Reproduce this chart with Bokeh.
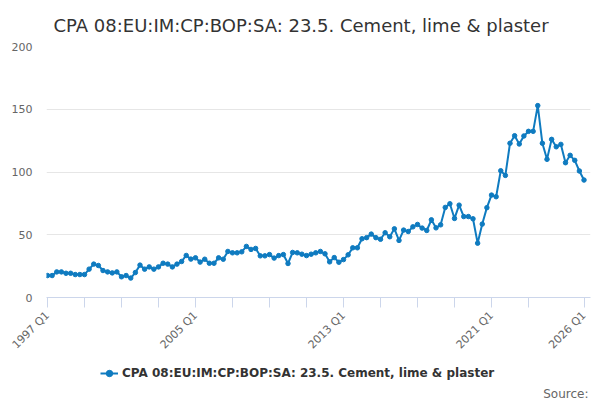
import math
from bokeh.plotting import figure
from bokeh.layouts import column
from bokeh.models import (FixedTicker, Label, Legend, LegendItem, ColumnDataSource,
                          Range1d)
from bokeh.embed import file_html
from bokeh.resources import INLINE

title_text = "CPA 08:EU:IM:CP:BOP:SA: 23.5. Cement, lime & plaster"
series_name = "CPA 08:EU:IM:CP:BOP:SA: 23.5. Cement, lime & plaster"
source_text = "Source:"

first_year = 1997
values = [
    17.5, 17.5, 20.4, 20.4,      # 1997
    19.3, 19.3, 18.3, 18.3,      # 1998
    18.3, 22.6, 26.6, 25.5,      # 1999
    21.5, 20.4, 19.6, 20.4,      # 2000
    16.5, 17.5, 15.5, 19.9,      # 2001
    25.8, 22.6, 24.4, 22.6,      # 2002
    24.4, 27.3, 26.6, 24.4,      # 2003
    26.6, 28.7, 33.5, 30.6,      # 2004
    31.6, 28.2, 30.5, 27.3,      # 2005
    27.3, 31.6, 30.5, 36.7,      # 2006
    35.6, 35.6, 36.4, 40.7,      # 2007
    38.3, 39.1, 33.2, 33.2,      # 2008
    34.2, 31.4, 33.4, 34.2,      # 2009
    27.1, 35.9, 35.6, 34.5,      # 2010
    33.4, 34.5, 35.6, 36.7,      # 2011
    34.8, 28.4, 31.8, 28.1,      # 2012
    30.2, 34.0, 39.6, 39.6,      # 2013
    46.8, 47.7, 50.5, 47.7,      # 2014
    46.4, 51.6, 48.4, 54.7,      # 2015
    45.5, 53.7, 52.6, 56.3,      # 2016
    58.2, 55.3, 53.4, 61.9,      # 2017
    55.5, 57.9, 71.8, 74.7,      # 2018
    63.0, 73.6, 64.5, 64.5,      # 2019
    62.7, 43.3, 58.5, 71.6,      # 2020
    81.6, 80.3, 101.0, 97.3,     # 2021
    122.9, 128.9, 122.3, 128.7,  # 2022
    132.4, 132.4, 152.9, 122.9,  # 2023
    110.1, 126.0, 120.1, 122.0,  # 2024
    107.4, 113.3, 109.3, 100.8,  # 2025
    93.6,                        # 2026 Q1
]
categories = [f"{first_year + i // 4} Q{i % 4 + 1}" for i in range(len(values))]

tick_positions = [0, 8, 16, 24, 32, 40, 48, 56, 64, 72, 80, 88, 96, 104, 116]
tick_labels = {0: "1997 Q1", 32: "2005 Q1", 64: "2013 Q1", 96: "2021 Q1", 116: "2026 Q1"}
y_ticks = [0, 50, 100, 150, 200]

FONT = "DejaVu Sans"
LINE_COLOR = "#0f7bc0"

W = 600
H_MAIN = 360
H_LEG = 400 - H_MAIN
FL, FR, FT, FB = 46, 10, 46, 297  # frame borders in page pixels

p = figure(width=W, height=H_MAIN, output_backend="svg", toolbar_location=None,
           x_range=Range1d(-0.216, 117.405), y_range=Range1d(0, 200),
           min_border_left=FL, min_border_right=FR, min_border_top=FT,
           min_border_bottom=H_MAIN - FB)
p.outline_line_color = None
p.background_fill_color = "white"
p.border_fill_color = "white"
p.title.text = title_text
p.title.align = "left"
p.title.offset = 7
p.title.text_font = FONT
p.title.text_font_size = "18px"
p.title.text_font_style = "normal"
p.title.text_color = "#333333"
p.title.standoff = 21

src = ColumnDataSource(dict(x=list(range(len(values))), y=values, cat=categories))
p.line("x", "y", source=src, line_color=LINE_COLOR, line_width=2)
p.scatter("x", "y", source=src, size=4.5, fill_color=LINE_COLOR, line_color=LINE_COLOR)

# x axis
xa = p.xaxis[0]
xa.ticker = FixedTicker(ticks=tick_positions)
xa.major_label_overrides = {t: tick_labels.get(t, "") for t in tick_positions}
xa.major_label_orientation = math.pi / 4
xa.axis_line_color = "#ccd6eb"
xa.major_tick_line_color = "#ccd6eb"
xa.major_tick_out = 10
xa.major_tick_in = 0
xa.minor_tick_out = 0
xa.minor_tick_in = 0
xa.major_label_text_font = FONT
xa.major_label_text_font_size = "11px"
xa.major_label_text_color = "#666666"
xa.major_label_standoff = 6

# y axis
ya = p.yaxis[0]
ya.ticker = FixedTicker(ticks=y_ticks)
ya.axis_line_color = None
ya.major_tick_line_color = None
ya.minor_tick_line_color = None
ya.major_tick_out = 0
ya.major_tick_in = 0
ya.major_label_standoff = 14
ya.major_label_text_font = FONT
ya.major_label_text_font_size = "11px"
ya.major_label_text_color = "#666666"

p.xgrid.grid_line_color = None
p.ygrid.ticker = FixedTicker(ticks=y_ticks)
p.ygrid.grid_line_color = "#e6e6e6"
p.ygrid.grid_line_width = 1

# legend strip below the chart (its ranges keep the series itself out of view;
# the series renderers here only supply the legend sample)
lf = figure(width=W, height=H_LEG, output_backend="svg", toolbar_location=None,
            x_range=Range1d(-1000, -900), y_range=Range1d(-1000, -900),
            x_axis_location=None, y_axis_location=None,
            min_border_left=FL, min_border_right=FR,
            min_border_top=0, min_border_bottom=0)
lf.outline_line_color = None
lf.grid.grid_line_color = None
lf.background_fill_color = "white"
lf.border_fill_color = "white"
lr = lf.line("x", "y", source=src, line_color=LINE_COLOR, line_width=2)
ls = lf.scatter("x", "y", source=src, size=4.5, fill_color=LINE_COLOR,
                line_color=LINE_COLOR)
legend = Legend(items=[LegendItem(label=series_name, renderers=[lr, ls])],
                location=(100 - FL, 19), orientation="horizontal",
                border_line_color=None, background_fill_alpha=0,
                padding=0, margin=0, glyph_width=18, glyph_height=16,
                label_standoff=4,
                label_text_font=FONT, label_text_font_size="12px",
                label_text_font_style="bold", label_text_color="#333333")
lf.add_layout(legend, "center")
lf.add_layout(Label(x=588 - FL, y=7, x_units="screen", y_units="screen",
                    text=source_text, text_align="right", text_baseline="alphabetic",
                    text_font=FONT, text_font_size="12px", text_color="#666666"))

layout = column(p, lf, spacing=0)
open("out.html", "w").write(file_html(layout, INLINE))
